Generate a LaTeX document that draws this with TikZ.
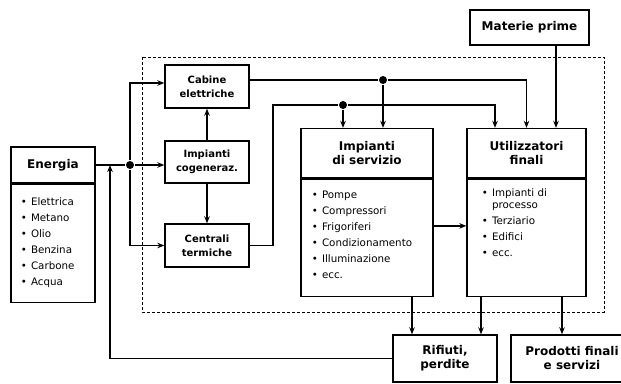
\documentclass[tikz,border=0pt]{standalone}
\usepackage{fontspec}
\setmainfont{DejaVu Sans}
\usetikzlibrary{positioning,calc,arrows.meta}
\newcommand{\voce}{\textbullet\hspace{4pt}}

\begin{document}
\begin{tikzpicture}[x=1pt, y=-1pt, line width=1.3pt, >={Stealth[length=7pt,width=5.5pt]},
        boxnode/.style={draw, line width=1.4pt, inner sep=0pt, align=center},
        headnode/.style={boxnode, font=\fontsize{12}{14}\selectfont\bfseries},
        smallnode/.style={boxnode, minimum width=84pt, font=\fontsize{10}{14}\selectfont\bfseries},
        listnode/.style={draw, line width=1.4pt, inner sep=0pt},
        items/.style={inner sep=0pt, align=left, font=\fontsize{10.3}{16}\selectfont},
        dot/.style={circle, fill=black, inner sep=0pt, minimum size=8pt}]
        \useasboundingbox (0,0) rectangle (621,383);
        % dashed border
        \draw[line width=0.9pt, dash pattern=on 3pt off 2pt] (142,57) rectangle (604,312);
        % energy source
        \node[headnode, minimum width=84pt, minimum height=36pt] at (53,165) (energia) {Energia};
        \node[listnode, minimum width=84pt, minimum height=118pt, below=0pt of energia] (energiaL) {};
        \node[items, below right=13pt and 10pt of energiaL.north west] (energiaT)
            {\voce Elettrica\\ \voce Metano\\ \voce Olio\\ \voce Benzina\\ \voce Carbone\\ \voce Acqua};
        % conversion
        \node[smallnode, minimum height=43pt] at (207,86.5) (cabine) {Cabine\\elettriche};
        \node[smallnode, minimum height=42pt] at (207,162) (cogen) {Impianti\\cogeneraz.};
        \node[smallnode, minimum height=43pt] at (207,245.5) (centrali) {Centrali\\termiche};
        % services and end users
        \node[headnode, minimum width=132pt, minimum height=49pt] at (367,153) (serv) {Impianti\\di servizio};
        \node[listnode, minimum width=132pt, minimum height=117.5pt, below=0pt of serv] (servL) {};
        \node[items, below right=12pt and 11pt of servL.north west] (servT)
            {\voce Pompe\\ \voce Compressori\\ \voce Frigoriferi\\ \voce Condizionamento\\ \voce Illuminazione\\ \voce ecc.};
        \node[headnode, minimum width=119pt, minimum height=49pt] at (526.5,153) (util) {Utilizzatori\\finali};
        \node[listnode, minimum width=119pt, minimum height=117.5pt, below=0pt of util] (utilL) {};
        \node[items, below right=10pt and 15pt of utilL.north west] (utilT)
            {\voce Impianti di\\[-4pt] \phantom{\voce}processo\\ \voce Terziario\\ \voce Edifici\\ \voce ecc.};
        \node[headnode, minimum width=119pt, minimum height=35pt] at (529.5,27.5) (materie) {Materie prime};
        % outputs
        \node[headnode, minimum width=104pt, minimum height=47pt] at (445,358.5) (rifiuti) {Rifiuti,\\perdite};
        \node[headnode, minimum width=122pt, minimum height=47pt] at (572,358.5) (prodotti) {Prodotti finali\\e servizi};
        % junctions
        \node[dot] at (130,165) (j1) {};
        \node[dot] at (383,80) (dA) {};
        \node[dot] at (343,105) (dB) {};
        \coordinate (kB) at (273,105);
        \coordinate (fb) at (110,165);
        \coordinate (mp) at ($(materie.south)+(26.5,0)$);
        \coordinate (s1) at ($(servL.south)+(45,0)$);
        \coordinate (u1) at ($(utilL.south)+(-45.5,0)$);
        \coordinate (u2) at ($(utilL.south)+(35.5,0)$);
        % energy distribution
        \draw (energia.east) -- (j1);
        \draw[->] (j1) -- (j1 -| cogen.west);
        \draw[->] (j1) |- ($(cabine.west)+(0,-3.5)$);
        \draw[->] (j1) |- (centrali.west);
        \draw[->] (cogen) -- (cabine);
        \draw[->] (cogen) -- (centrali);
        \draw (cabine.east |- dA) -- (dA);
        \draw[->] (dA) -| (util.north);
        \draw[->] (dA) -- (dA |- serv.north);
        \draw (centrali.east) -| (kB) -- (dB);
        \draw[->] (dB) -- (dB |- serv.north);
        \draw[->] (dB) -| ($(util.north)+(-31.5,0)$);
        \draw[->] (mp) -- (mp |- util.north);
        \draw[->] (servL.10) -- (servL.10 -| utilL.west);
        % outputs and feedback
        \draw[->] (s1) -- (s1 |- rifiuti.north);
        \draw[->] (u1) -- (u1 |- rifiuti.north);
        \draw[->] (u2) -- (u2 |- prodotti.north);
        \draw[->] (rifiuti.west) -| (fb);
\end{tikzpicture}
\end{document}
